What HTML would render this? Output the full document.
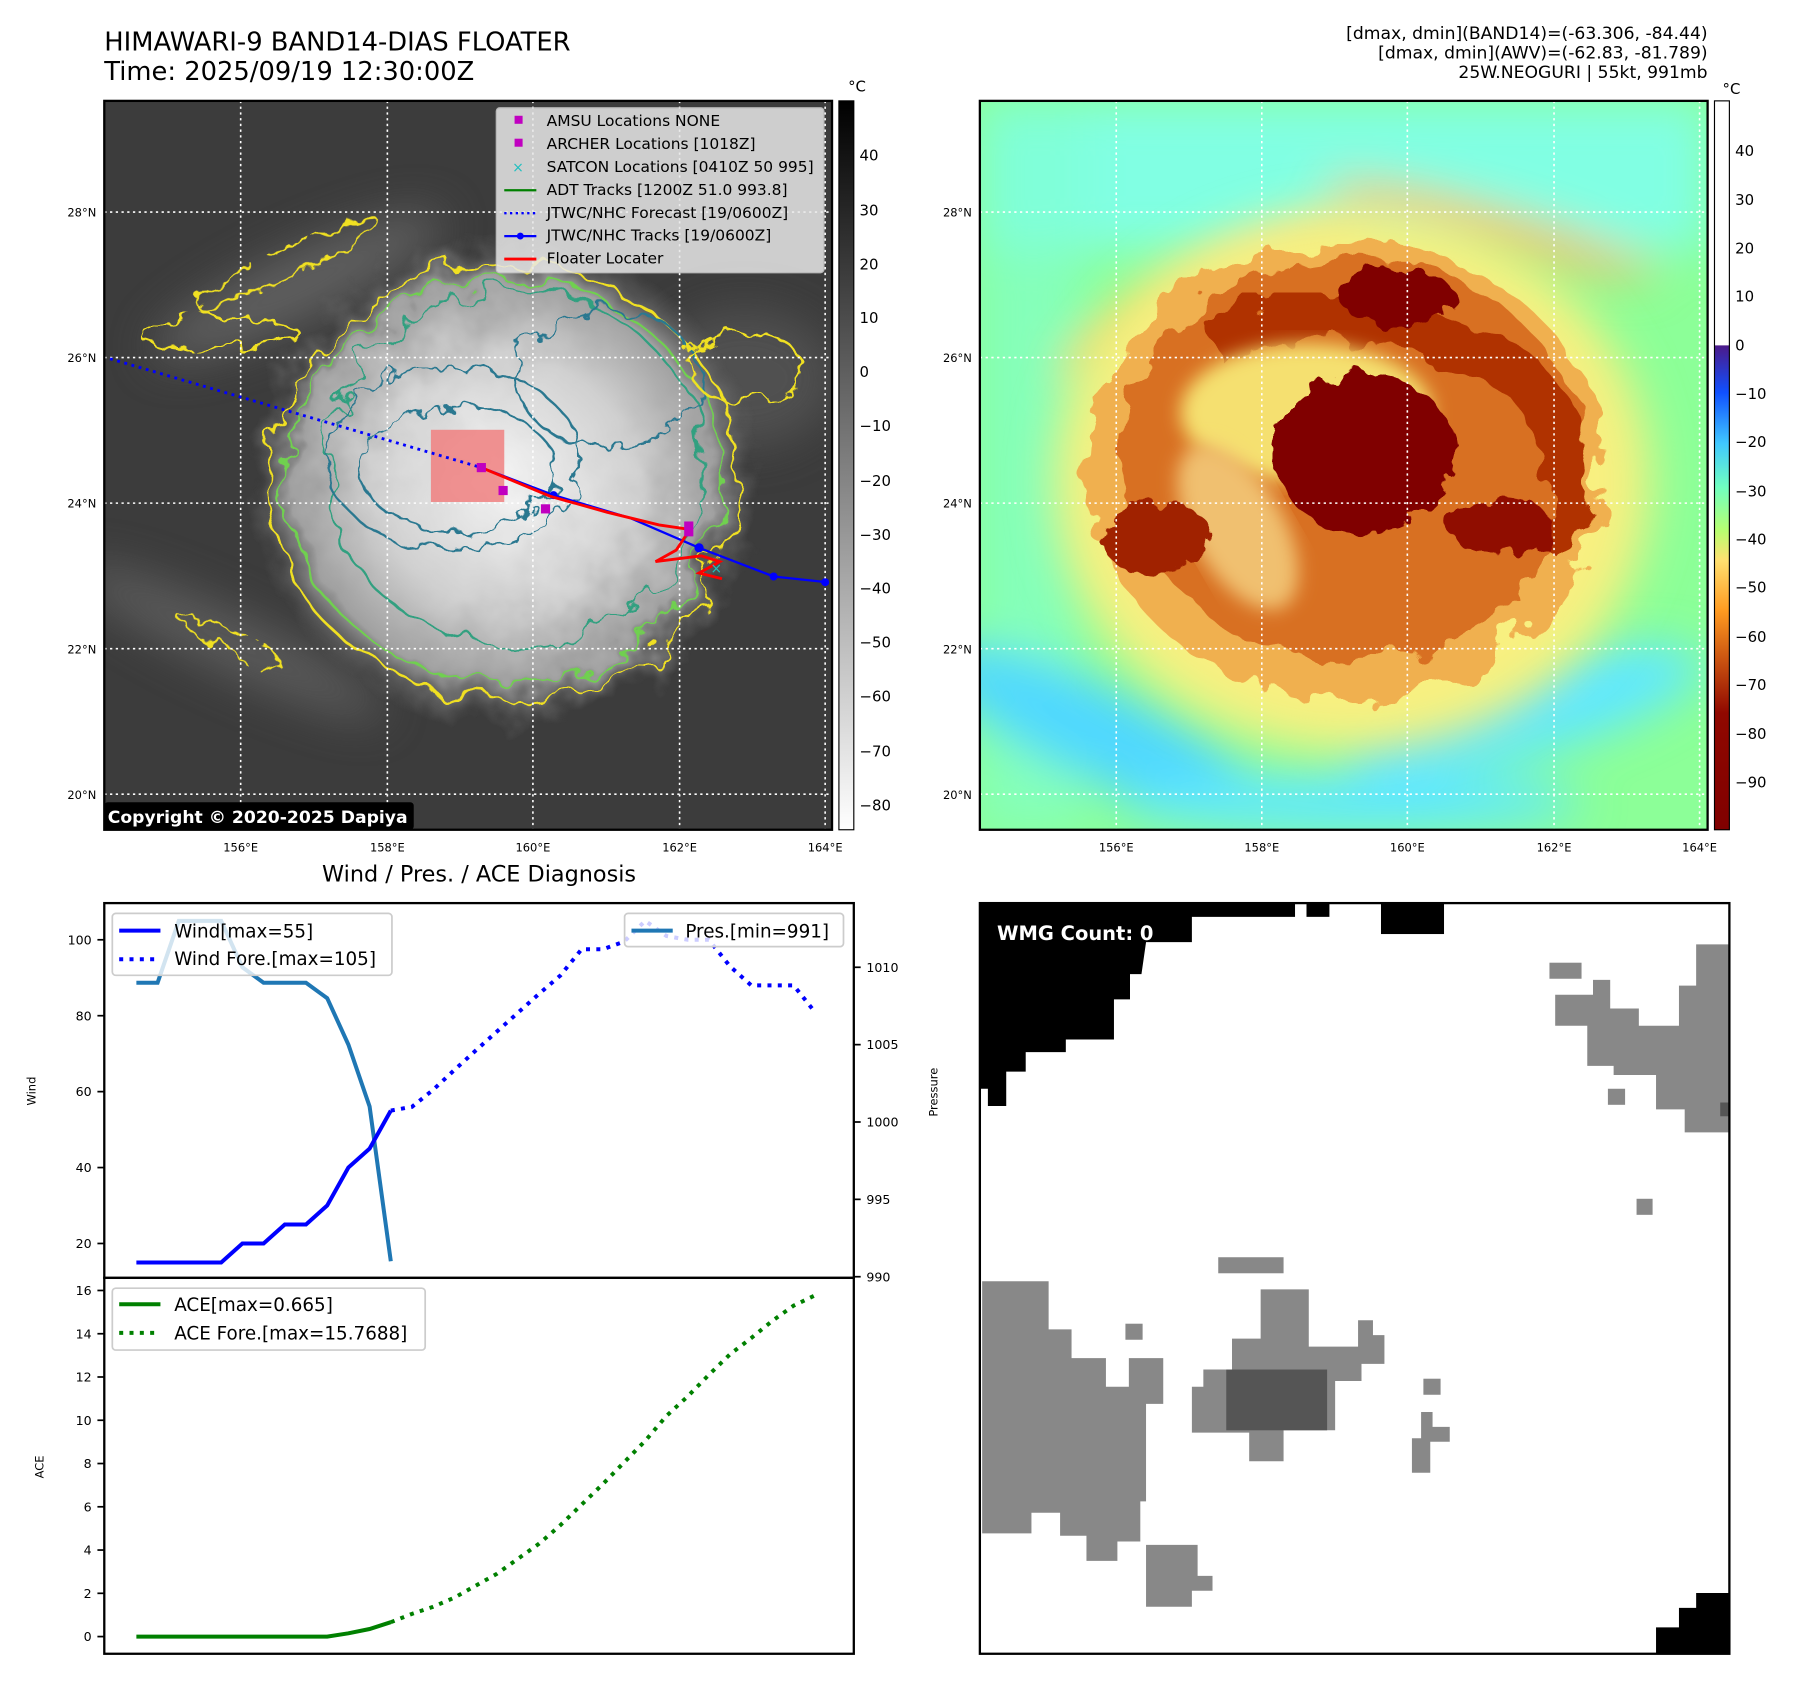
<!DOCTYPE html>
<html><head><meta charset="utf-8"><style>
html,body{margin:0;padding:0;background:#fff;}
svg{display:block;font-family:"DejaVu Sans","Liberation Sans",sans-serif;}
</style></head><body>
<svg id="root" width="1797" height="1690" viewBox="0 0 1568 1474.6" xmlns="http://www.w3.org/2000/svg">
<defs>
<filter id="wob" x="-10%" y="-10%" width="120%" height="120%"><feTurbulence type="fractalNoise" baseFrequency="0.045" numOctaves="3" seed="3"/><feDisplacementMap in="SourceGraphic" scale="26"/></filter>
<filter id="wob2" x="-10%" y="-10%" width="120%" height="120%"><feTurbulence type="fractalNoise" baseFrequency="0.03" numOctaves="3" seed="7"/><feDisplacementMap in="SourceGraphic" scale="40"/></filter>
<filter id="blur8"><feGaussianBlur stdDeviation="8"/></filter>
<filter id="blur20"><feGaussianBlur stdDeviation="20"/></filter>
<clipPath id="clipL"><rect x="91" y="88" width="635" height="636"/></clipPath>
<clipPath id="clipR"><rect x="855" y="88" width="635" height="636"/></clipPath>
<linearGradient id="cbL" x1="0" y1="0" x2="0" y2="1"><stop offset="0" stop-color="#000"/><stop offset="1" stop-color="#fff"/></linearGradient>
<linearGradient id="cbR" x1="0" y1="0" x2="0" y2="1">
<stop offset="0" stop-color="#fff"/><stop offset="0.335" stop-color="#fff"/><stop offset="0.336" stop-color="#4b1a8a"/>
<stop offset="0.40" stop-color="#1050ff"/><stop offset="0.47" stop-color="#40c8ff"/><stop offset="0.53" stop-color="#70ffc0"/>
<stop offset="0.59" stop-color="#b8ff70"/><stop offset="0.63" stop-color="#ffe070"/><stop offset="0.70" stop-color="#ff9a20"/>
<stop offset="0.77" stop-color="#c85010"/><stop offset="0.84" stop-color="#900800"/><stop offset="1" stop-color="#800000"/></linearGradient>
<radialGradient id="stormL" cx="0.5" cy="0.5" r="0.5"><stop offset="0" stop-color="#f4f4f4"/><stop offset="0.5" stop-color="#d0d0d0"/><stop offset="0.8" stop-color="#a0a0a0"/><stop offset="1" stop-color="#5a5a5a" stop-opacity="0"/></radialGradient>
</defs>

<text x="91" y="44" font-size="22.5">HIMAWARI-9 BAND14-DIAS FLOATER</text>
<text x="91" y="70" font-size="22.5">Time: 2025/09/19 12:30:00Z</text>
<g font-size="15" text-anchor="end">
<text x="1490" y="34">[dmax, dmin](BAND14)=(-63.306, -84.44)</text>
<text x="1490" y="51">[dmax, dmin](AWV)=(-62.83, -81.789)</text>
<text x="1490" y="68">25W.NEOGURI | 55kt, 991mb</text>
</g>

<!-- LEFT MAP -->
<g clip-path="url(#clipL)">
<rect x="91" y="88" width="635" height="636" fill="#3c3c3c"/>
<g filter="url(#blur20)" opacity="0.7">
<ellipse cx="260" cy="250" rx="140" ry="30" fill="#707070" transform="rotate(-25 260 250)"/>
<ellipse cx="200" cy="560" rx="150" ry="25" fill="#6a6a6a" transform="rotate(25 200 560)"/>
<ellipse cx="650" cy="330" rx="80" ry="60" fill="#5a5a5a"/>
</g>
<ellipse cx="440" cy="420" rx="225" ry="215" fill="url(#stormL)" filter="url(#wob2)"/>
<ellipse cx="440" cy="420" rx="205" ry="190" fill="none" stroke="#f0e020" stroke-width="2.2" filter="url(#wob2)"/>
<ellipse cx="440" cy="420" rx="190" ry="175" fill="none" stroke="#70d050" stroke-width="2" filter="url(#wob2)"/>
<ellipse cx="450" cy="410" rx="165" ry="155" fill="none" stroke="#30a080" stroke-width="2" filter="url(#wob2)"/>
<ellipse cx="395" cy="400" rx="110" ry="80" fill="none" stroke="#2a7890" stroke-width="2" filter="url(#wob)"/>
<ellipse cx="400" cy="410" rx="85" ry="55" fill="none" stroke="#2a7890" stroke-width="2" filter="url(#wob)"/>
<ellipse cx="530" cy="330" rx="80" ry="60" fill="none" stroke="#2a7890" stroke-width="2" filter="url(#wob)"/>
<ellipse cx="250" cy="230" rx="90" ry="12" fill="none" stroke="#f0e020" stroke-width="2" transform="rotate(-25 250 230)" filter="url(#wob)"/>
<ellipse cx="190" cy="290" rx="70" ry="15" fill="none" stroke="#f0e020" stroke-width="2" filter="url(#wob)"/>
<ellipse cx="650" cy="320" rx="50" ry="30" fill="none" stroke="#f0e020" stroke-width="2" filter="url(#wob)"/>
<ellipse cx="200" cy="560" rx="50" ry="10" fill="none" stroke="#f0e020" stroke-width="2" transform="rotate(25 200 560)" filter="url(#wob)"/>
<rect x="376" y="375" width="64" height="63" fill="#f08080" opacity="0.85"/>
<g stroke="#fff" stroke-width="1.4" stroke-dasharray="2 3">
<line x1="210" y1="88" x2="210" y2="724"/><line x1="338" y1="88" x2="338" y2="724"/><line x1="465" y1="88" x2="465" y2="724"/><line x1="593" y1="88" x2="593" y2="724"/><line x1="720" y1="88" x2="720" y2="724"/>
<line x1="91" y1="185" x2="726" y2="185"/><line x1="91" y1="312" x2="726" y2="312"/><line x1="91" y1="439" x2="726" y2="439"/><line x1="91" y1="566" x2="726" y2="566"/><line x1="91" y1="693" x2="726" y2="693"/>
</g>
<polyline points="96,313 420,408" fill="none" stroke="#00f" stroke-width="2.5" stroke-dasharray="2.5 4"/>
<polyline points="420,408 483,432 550,452 610,478 675,503 722,508" fill="none" stroke="#00f" stroke-width="2"/>
<g fill="#00f"><circle cx="483" cy="432" r="3.5"/><circle cx="610" cy="478" r="4"/><circle cx="675" cy="503" r="3.5"/><circle cx="720" cy="508" r="3.5"/></g>
<polyline points="420,408 480,433 530,447 575,458 602,462 590,480 572,490 612,485 628,490 610,500 630,505" fill="none" stroke="#f00" stroke-width="2.5"/>
<g fill="#c000c0"><rect x="416" y="404" width="8" height="8"/><rect x="435" y="424" width="8" height="8"/><rect x="472" y="440" width="8" height="8"/><rect x="597" y="455" width="8" height="13"/></g>
<text x="620" y="500" fill="#20c0c0" font-size="12">×</text>
<rect x="91" y="700" width="270" height="24" fill="#000" rx="3"/>
<text x="94" y="718" fill="#fff" font-size="15" font-weight="bold">Copyright © 2020-2025 Dapiya</text>
</g>
<rect x="91" y="88" width="635" height="636" fill="none" stroke="#000" stroke-width="2"/>
<g font-size="13.5">
<rect x="433" y="94" width="286" height="144" fill="#e8e8e8" opacity="0.85" stroke="#ccc" rx="3"/>
<rect x="449" y="101" width="7" height="7" fill="#c000c0"/><text x="477" y="110">AMSU Locations NONE</text>
<rect x="449" y="121" width="7" height="7" fill="#c000c0"/><text x="477" y="130">ARCHER Locations [1018Z]</text>
<text x="447" y="150" fill="#20c0c0" font-size="12">×</text><text x="477" y="150">SATCON Locations [0410Z 50 995]</text>
<line x1="440" y1="166" x2="468" y2="166" stroke="#008000" stroke-width="2"/><text x="477" y="170">ADT Tracks [1200Z 51.0 993.8]</text>
<line x1="440" y1="186" x2="468" y2="186" stroke="#00f" stroke-width="2" stroke-dasharray="2 3"/><text x="477" y="190">JTWC/NHC Forecast [19/0600Z]</text>
<line x1="440" y1="206" x2="468" y2="206" stroke="#00f" stroke-width="2"/><circle cx="454" cy="206" r="3" fill="#00f"/><text x="477" y="210">JTWC/NHC Tracks [19/0600Z]</text>
<line x1="440" y1="226" x2="468" y2="226" stroke="#f00" stroke-width="2.5"/><text x="477" y="230">Floater Locater</text>
</g>
<rect x="732" y="88" width="13" height="636" fill="url(#cbL)" stroke="#000" stroke-width="1"/>
<text x="740" y="80" font-size="13">°C</text>
<g font-size="13">
<text x="750" y="140">40</text><text x="750" y="188">30</text><text x="750" y="235">20</text><text x="750" y="282">10</text><text x="750" y="329">0</text><text x="750" y="376">−10</text><text x="750" y="424">−20</text><text x="750" y="471">−30</text><text x="750" y="518">−40</text><text x="750" y="565">−50</text><text x="750" y="612">−60</text><text x="750" y="660">−70</text><text x="750" y="707">−80</text>
</g>
<g font-size="10" text-anchor="end">
<text x="84" y="189">28°N</text><text x="84" y="316">26°N</text><text x="84" y="443">24°N</text><text x="84" y="570">22°N</text><text x="84" y="697">20°N</text></g>
<g font-size="10" text-anchor="middle">
<text x="210" y="743">156°E</text><text x="338" y="743">158°E</text><text x="465" y="743">160°E</text><text x="593" y="743">162°E</text><text x="720" y="743">164°E</text></g>

<!-- RIGHT MAP -->
<g clip-path="url(#clipR)">
<rect x="855" y="88" width="635" height="636" fill="#8cff98"/>
<g filter="url(#blur20)">
<rect x="855" y="88" width="635" height="130" fill="#7ffff0" opacity="0.85"/>
<rect x="855" y="88" width="90" height="636" fill="#80ffd0" opacity="0.6"/>
<ellipse cx="960" cy="640" rx="160" ry="40" fill="#50d8ff" transform="rotate(25 960 640)"/>
<ellipse cx="1330" cy="620" rx="160" ry="40" fill="#60e8ff" transform="rotate(-15 1330 620)"/>
<ellipse cx="1180" cy="700" rx="200" ry="25" fill="#60e8ff"/>
<ellipse cx="1060" cy="260" rx="150" ry="25" fill="#f0d060" transform="rotate(-25 1060 260)"/>
<ellipse cx="1300" cy="200" rx="150" ry="18" fill="#f0c060" transform="rotate(15 1300 200)"/>
</g>
<ellipse cx="1180" cy="420" rx="260" ry="235" fill="#f8f080" filter="url(#blur20)"/>
<ellipse cx="1175" cy="410" rx="225" ry="200" fill="#f0b050" filter="url(#wob2)"/>
<ellipse cx="1180" cy="400" rx="200" ry="175" fill="#d87020" filter="url(#wob2)"/>
<path d="M1060 300 Q1180 240 1330 330 Q1400 420 1350 480" fill="none" stroke="#b03000" stroke-width="40" filter="url(#wob2)"/>
<ellipse cx="1140" cy="360" rx="110" ry="60" fill="#f5e070" filter="url(#blur8)"/>
<ellipse cx="1080" cy="460" rx="40" ry="80" fill="#f0c070" filter="url(#blur8)" transform="rotate(-30 1080 460)"/>
<ellipse cx="1190" cy="395" rx="80" ry="70" fill="#800000" filter="url(#wob)"/>
<ellipse cx="1220" cy="260" rx="50" ry="25" fill="#800000" filter="url(#wob)"/>
<ellipse cx="1310" cy="460" rx="45" ry="25" fill="#900800" filter="url(#wob)"/>
<ellipse cx="1010" cy="470" rx="50" ry="30" fill="#a02000" filter="url(#wob)"/>
<g stroke="#fff" stroke-width="1.4" stroke-dasharray="2 3">
<line x1="974" y1="88" x2="974" y2="724"/><line x1="1101" y1="88" x2="1101" y2="724"/><line x1="1228" y1="88" x2="1228" y2="724"/><line x1="1356" y1="88" x2="1356" y2="724"/><line x1="1483" y1="88" x2="1483" y2="724"/>
<line x1="855" y1="185" x2="1490" y2="185"/><line x1="855" y1="312" x2="1490" y2="312"/><line x1="855" y1="439" x2="1490" y2="439"/><line x1="855" y1="566" x2="1490" y2="566"/><line x1="855" y1="693" x2="1490" y2="693"/>
</g>
</g>
<rect x="855" y="88" width="635" height="636" fill="none" stroke="#000" stroke-width="2"/>
<rect x="1496" y="88" width="13" height="636" fill="url(#cbR)" stroke="#000" stroke-width="1"/>
<text x="1503" y="82" font-size="13">°C</text>
<g font-size="13">
<text x="1514" y="136">40</text><text x="1514" y="179">30</text><text x="1514" y="221">20</text><text x="1514" y="263">10</text><text x="1514" y="306">0</text><text x="1514" y="348">−10</text><text x="1514" y="390">−20</text><text x="1514" y="433">−30</text><text x="1514" y="475">−40</text><text x="1514" y="517">−50</text><text x="1514" y="560">−60</text><text x="1514" y="602">−70</text><text x="1514" y="645">−80</text><text x="1514" y="687">−90</text>
</g>
<g font-size="10" text-anchor="end">
<text x="848" y="189">28°N</text><text x="848" y="316">26°N</text><text x="848" y="443">24°N</text><text x="848" y="570">22°N</text><text x="848" y="697">20°N</text></g>
<g font-size="10" text-anchor="middle">
<text x="974" y="743">156°E</text><text x="1101" y="743">158°E</text><text x="1228" y="743">160°E</text><text x="1356" y="743">162°E</text><text x="1483" y="743">164°E</text></g>

<!-- DIAGNOSIS CHART -->
<text x="418" y="769" font-size="19.5" text-anchor="middle">Wind / Pres. / ACE Diagnosis</text>
<g id="chart"></g>
<rect x="91" y="788" width="654" height="327" fill="none" stroke="#000" stroke-width="2"/>
<rect x="91" y="1115" width="654" height="328" fill="none" stroke="#000" stroke-width="2"/>
<text transform="translate(31,952) rotate(-90)" font-size="10" text-anchor="middle">Wind</text>
<text transform="translate(818,953) rotate(-90)" font-size="10" text-anchor="middle">Pressure</text>
<text transform="translate(38,1280) rotate(-90)" font-size="10" text-anchor="middle">ACE</text>
<g font-size="16">
<rect x="98" y="797" width="244" height="54" fill="#fff" fill-opacity="0.8" stroke="#ccc" stroke-width="1.5" rx="3"/>
<line x1="104" y1="812" x2="140" y2="812" stroke="#00f" stroke-width="3.5"/><text x="152" y="818">Wind[max=55]</text>
<line x1="104" y1="837" x2="140" y2="837" stroke="#00f" stroke-width="3.5" stroke-dasharray="3.5 5.5"/><text x="152" y="842">Wind Fore.[max=105]</text>
</g>
<g font-size="16">
<rect x="545" y="797" width="191" height="29" fill="#fff" fill-opacity="0.8" stroke="#ccc" stroke-width="1.5" rx="3"/>
<line x1="551" y1="812" x2="587" y2="812" stroke="#1f77b4" stroke-width="3.5"/><text x="598" y="818">Pres.[min=991]</text>
</g>
<g font-size="16">
<rect x="98" y="1124" width="273" height="54" fill="#fff" fill-opacity="0.8" stroke="#ccc" stroke-width="1.5" rx="3"/>
<line x1="104" y1="1138" x2="140" y2="1138" stroke="#008000" stroke-width="3.5"/><text x="152" y="1144">ACE[max=0.665]</text>
<line x1="104" y1="1163" x2="140" y2="1163" stroke="#008000" stroke-width="3.5" stroke-dasharray="3.5 5.5"/><text x="152" y="1169">ACE Fore.[max=15.7688]</text>
</g>

<!-- WMG PANEL -->
<g>
<rect x="855" y="788" width="654" height="655" fill="#fff"/>
<path d="M855 788 L1130 788 L1130 800 L1040 800 L1040 822 L1000 822 L996 850 L986 850 L986 872 L972 872 L972 907 L930 907 L930 918 L895 918 L895 935 L878 935 L878 965 L862 965 L862 950 L855 950 Z" fill="#000"/>
<rect x="1140" y="788" width="20" height="12" fill="#000"/><rect x="1205" y="788" width="55" height="27" fill="#000"/>
<path d="M1509 1390 L1480 1390 L1480 1403 L1465 1403 L1465 1420 L1445 1420 L1445 1443 L1509 1443 Z" fill="#000"/>
<g fill="#888">
<path d="M1480 824 L1509 824 L1509 988 L1470 988 L1470 968 L1445 968 L1445 938 L1408 938 L1408 930 L1385 930 L1385 895 L1357 895 L1357 868 L1390 868 L1390 855 L1405 855 L1405 880 L1430 880 L1430 895 L1465 895 L1465 860 L1480 860 Z"/>
<rect x="1352" y="840" width="28" height="14" /><rect x="1403" y="950" width="15" height="14"/><rect x="1428" y="1046" width="14" height="14"/>
<path d="M857 1118 L915 1118 L915 1160 L935 1160 L935 1185 L965 1185 L965 1210 L985 1210 L985 1185 L1015 1185 L1015 1225 L1000 1225 L1000 1310 L995 1310 L995 1345 L975 1345 L975 1362 L948 1362 L948 1340 L925 1340 L925 1320 L900 1320 L900 1338 L857 1338 Z"/>
<path d="M1000 1348 L1045 1348 L1045 1375 L1058 1375 L1058 1388 L1040 1388 L1040 1402 L1000 1402 Z"/>
<path d="M1100 1125 L1142 1125 L1142 1175 L1185 1175 L1185 1152 L1198 1152 L1198 1165 L1208 1165 L1208 1190 L1188 1190 L1188 1205 L1165 1205 L1165 1248 L1120 1248 L1120 1275 L1090 1275 L1090 1250 L1040 1250 L1040 1210 L1050 1210 L1050 1195 L1075 1195 L1075 1168 L1100 1168 Z"/>
<rect x="1063" y="1097" width="57" height="14"/><rect x="982" y="1155" width="15" height="14"/>
<rect x="1242" y="1203" width="15" height="14"/><path d="M1240 1232 L1250 1232 L1250 1245 L1265 1245 L1265 1258 L1248 1258 L1248 1285 L1232 1285 L1232 1255 L1240 1255 Z"/>
</g>
<rect x="1070" y="1195" width="88" height="53" fill="#555"/>
<rect x="1501" y="962" width="8" height="12" fill="#555"/>
<text x="870" y="820" fill="#fff" font-size="17" font-weight="bold">WMG Count: 0</text>
<rect x="855" y="788" width="654" height="655" fill="none" stroke="#000" stroke-width="2"/>
</g>
</svg>
<script>
const windObs = [15,15,15,15,15,20,20,25,25,30,40,45,55];
const windFore = [55,56,60.5,65.7,70.8,75.8,80.8,85.8,90.6,97.5,97.5,99.5,105,101,100,100,93,88,88,88,81];
const presObs = [1009,1009,1013,1013,1013,1010,1009,1009,1009,1008,1005,1001,991];
const aceObs = [0,0,0,0,0,0,0,0,0,0,0.15,0.35,0.665];
const aceFore = [0.665,1.05,1.38,1.8,2.35,2.9,3.6,4.3,5.15,6.1,7.05,8.05,9.05,10.2,11.1,12.1,13.05,13.8,14.6,15.3,15.77];
const windTicks = [20,40,60,80,100];
const presTicks = [990,995,1000,1005,1010];
const aceTicks = [0,2,4,6,8,10,12,14,16];

const NS = 'http://www.w3.org/2000/svg';
const g = document.getElementById('chart');
const foreStart = windObs.length - 1;
function xS(i){ return 119 + 18.5 * i; }
function yWind(v){ return 1085 - (v - 20) * 3.3125; }
function yPres(p){ return 1114 - (p - 990) * 13.5; }
function yAce(a){ return 1428 - a * 18.875; }

function line(vals, off, yf, color, dashed, name){
  const pl = document.createElementNS(NS,'polyline');
  pl.setAttribute('points', vals.map((v,k)=>xS(off+k)+','+yf(v)).join(' '));
  pl.setAttribute('fill','none');
  pl.setAttribute('stroke',color);
  pl.setAttribute('stroke-width','3.5');
  if(dashed) pl.setAttribute('stroke-dasharray','3.5 5.5');
  
  
  g.appendChild(pl);
}
function tick(x1,x2,y,label,anchor,lx,name){
  const l = document.createElementNS(NS,'line');
  l.setAttribute('x1',x1); l.setAttribute('x2',x2); l.setAttribute('y1',y); l.setAttribute('y2',y);
  l.setAttribute('stroke','#000'); l.setAttribute('stroke-width','1.5');
  
  
  g.appendChild(l);
  const t = document.createElementNS(NS,'text');
  t.setAttribute('x',lx); t.setAttribute('y',y+4);
  t.setAttribute('font-size','11'); t.setAttribute('text-anchor',anchor);
  t.textContent = label;
  
  
  g.appendChild(t);
}
windTicks.forEach(v=>tick(85,91,yWind(v),String(v),'end',80,'wind'));
presTicks.forEach(v=>tick(745,751,yPres(v),String(v),'start',756,'pressure'));
aceTicks.forEach(v=>tick(85,91,yAce(v),String(v),'end',80,'ace'));

line(presObs, 0, yPres, '#1f77b4', false, 'pressure-line');
line(windObs, 0, yWind, '#0000ff', false, 'wind-line');
line(windFore, foreStart, yWind, '#0000ff', true, 'wind-forecast-line');
line(aceObs, 0, yAce, '#008000', false, 'ace-line');
line(aceFore, foreStart, yAce, '#008000', true, 'ace-forecast-line');
</script>
</body></html>
